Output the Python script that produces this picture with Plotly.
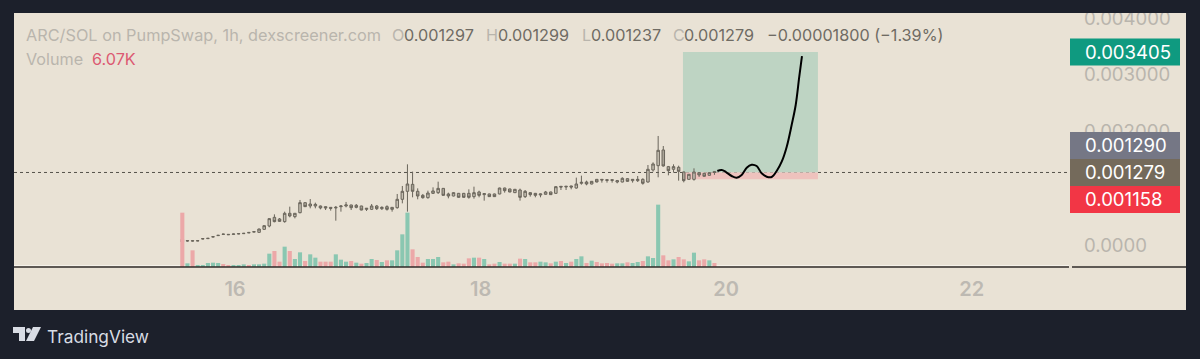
import plotly.graph_objects as go

W, H = 1200, 359
L, R, T, B = 14, 1070, 13, 267   # price pane in page pixels
BG = "#e9e2d5"; DARK = "#1c202b"; GREY = "#b9b5ad"; VAL = "#6f6b63"

x_ticks = [16, 18, 20, 22]
y_ticks = [0, 0.001, 0.002, 0.003, 0.004]
y_tick_text = ["0.0000", "0.001000", "0.002000", "0.003000", "0.004000"]

first_day = 15.571
vol_h = [163,11,50,5,5,12,13,12,9,5,4,5,8,6,8,8,10,40,48,16,61,48,24,44,18,38,28,16,16,16,38,22,16,18,13,10,12,24,21,15,20,20,50,98,163,53,30,13,24,24,
         30,14,16,8,11,10,26,28,28,24,8,10,15,10,10,10,25,24,14,14,16,14,11,16,18,12,16,24,32,12,19,15,11,12,10,11,11,14,12,15,18,32,27,187,35,20,23,30,23,17,43,20,23,20,12]
vol_dir = ("rgrgggggrr" "gggrggggrr" "grggrggrrr" "gggrgrggrg" "rggggrrrgg"
           "grrgrrrgrg" "rrgrrgrgrr" "ggrgrgrggr" "grrrrggrgg" "rgggrrgrrg" "grrgr")
volume_k = [h * 0.5 for h in vol_h]

body_top = [100,76,76,76,112,118,147,171,194,188,194,200,206,223,235,282,341,465,488,459,559,559,559,747,747,723,717,688,676,664,664,688,706,706,700,688,647,688,688,664,676,664,806,947,1076,1070,947,876,917,953,
            999,999,900,923,911,911,911,923,935,906,900,900,1005,1005,988,982,970,947,923,911,900,935,935,1029,1035,1035,1041,1076,1105,1111,1123,1158,1158,1152,1152,1135,1176,1170,1158,1158,1158,1335,1429,1670,1676,1382,1382,1370,1288,1247,1288,1276,1264,1276,1297]
body_bot = [53,70,71,71,106,112,140,165,188,182,188,195,200,215,228,223,276,335,412,417,412,512,500,570,676,688,688,653,653,647,653,676,688,658,664,617,629,629,641,641,629,629,658,806,947,947,864,835,835,911,
            923,876,864,864,841,841,841,853,876,888,853,853,900,958,935,923,841,853,888,876,882,894,888,911,1023,1023,1023,1005,1088,1076,1076,1111,1147,1141,1141,1111,1111,1123,1135,1135,1088,1111,1323,1399,1394,1311,1335,1299,1135,1158,1158,1235,1212,1229,1279]
high = [118,85,80,78,118,122,150,175,198,192,198,204,210,227,240,288,345,470,541,476,588,676,559,794,750,811,747,695,680,668,688,700,759,710,723,692,650,723,706,682,700,668,900,1041,1423,1294,999,900,958,1017,
        1117,1005,923,930,918,918,982,1029,958,911,906,906,1011,1011,994,988,994,970,930,918,906,953,940,1035,1040,1040,1046,1188,1223,1135,1128,1164,1162,1156,1156,1147,1194,1176,1162,1217,1176,1411,1458,1923,1746,1394,1423,1399,1294,1252,1352,1282,1270,1285,1299]
low = [41,60,65,68,100,108,135,160,185,178,185,190,196,212,224,218,270,312,400,410,394,488,470,559,670,647,647,629,617,606,429,588,664,617,647,612,600,617,617,617,606,588,641,735,588,841,806,817,817,900,
       900,870,823,858,835,835,817,817,841,782,848,848,895,923,930,918,782,829,853,841,841,888,882,905,970,970,982,994,1064,1053,1070,1105,1100,1100,1100,1088,1105,1118,1100,1111,1064,1100,1294,1194,1382,1229,1276,1135,1105,1150,1135,1200,1205,1222,1237]

curve_day = [19.928,19.963,19.998,20.045,20.085,20.126,20.167,20.207,20.248,20.289,20.330,20.370,20.411,20.452,20.493,20.533,20.566,20.595,20.617]
curve_price = [1.305,1.323,1.287,1.217,1.187,1.235,1.363,1.416,1.393,1.264,1.205,1.199,1.305,1.469,1.734,2.116,2.469,2.968,3.333]

entry, target, stop = 0.001279, 0.003405, 0.001158
box_start, box_end = 19.648, 20.747
tags = [("0.003405", target, "#0f9a80", 0), ("0.001290", entry, "#757785", -27),
        ("0.001279", entry, "#746a5b", 0), ("0.001158", entry, "#f23645", 27)]

n = len(vol_h)
days = [first_day + i / 24 for i in range(n)]
ups = [d == "g" for d in vol_dir]
opens = [(b if u else t) * 1e-6 for t, b, u in zip(body_top, body_bot, ups)]
closes = [(t if u else b) * 1e-6 for t, b, u in zip(body_top, body_bot, ups)]
bar_colors = ["#8ac7b1" if u else "#eca8a8" for u in ups]

def px(x): return x / W
def py(y): return 1 - y / H
def rect(x0, y0, x1, y1, color):
    return dict(type="rect", xref="paper", yref="paper", x0=px(x0), x1=px(x1), y0=py(y1), y1=py(y0), fillcolor=color, line_width=0)
def rule(x0, x1, y, color, width, layer="above"):
    return dict(type="line", xref="paper", yref="paper", x0=px(x0), x1=px(x1), y0=py(y), y1=py(y), line=dict(color=color, width=width), layer=layer)

fig = go.Figure()
fig.add_bar(x=days, y=volume_k, marker=dict(color=bar_colors, line_width=0), width=0.8 / 24, yaxis="y2", showlegend=False)
fig.add_candlestick(x=days, open=opens, close=closes, high=[v * 1e-6 for v in high], low=[v * 1e-6 for v in low],
                    increasing=dict(line=dict(color="#6a655b", width=1), fillcolor="#c8c2b5"),
                    decreasing=dict(line=dict(color="#6a655b", width=1), fillcolor="#a9a396"),
                    whiskerwidth=0, showlegend=False)
fig.add_scatter(x=curve_day, y=[p * 1e-3 for p in curve_price], mode="lines",
                line=dict(color="#000000", width=2, shape="spline", smoothing=1), showlegend=False)

shapes = [
    dict(type="rect", xref="x", yref="y", x0=box_start, x1=box_end, y0=entry, y1=target, fillcolor="#bed4c3", line_width=0, layer="below"),
    dict(type="rect", xref="x", yref="y", x0=box_start, x1=box_end, y0=stop, y1=entry, fillcolor="#eec2bd", line_width=0, layer="below"),
    dict(type="line", xref="x domain", yref="y", x0=0, x1=1, y0=entry, y1=entry, line=dict(color="#55524b", width=1, dash="dot"), layer="below"),
    rect(0, 0, W, T, DARK), rect(0, 310, W, H, DARK), rect(0, 0, L, H, DARK), rect(1186, 0, W, H, DARK),
    rule(L, 1069, 265.5, "#f6f2ea", 1, "below"), rule(L, 1069, 267, "#2f2b28", 1.5), rule(1072, 1186, 267, "#2f2b28", 1.5),
    # TradingView logo
    dict(type="path", xref="paper", yref="paper", line_width=0, fillcolor="#d8dce4",
         path=f"M {px(13)} {py(327)} L {px(25)} {py(327)} L {px(25)} {py(341)} L {px(19)} {py(341)} L {px(19)} {py(333)} L {px(13)} {py(333)} Z"),
    dict(type="circle", xref="paper", yref="paper", line_width=0, fillcolor="#d8dce4", x0=px(26), x1=px(31), y0=py(333), y1=py(328)),
    dict(type="path", xref="paper", yref="paper", line_width=0, fillcolor="#d8dce4",
         path=f"M {px(33)} {py(327)} L {px(41)} {py(327)} L {px(34)} {py(341)} L {px(26)} {py(341)} Z"),
]
def text_at(x, y, text, color, size=16.2):
    return dict(xref="paper", yref="paper", x=px(x), y=py(y), xanchor="left", yanchor="middle", text=text, showarrow=False,
                font=dict(family="Inter", size=size, color=color), borderpad=0, borderwidth=0)

annotations = []
for label, value, color, shift in tags:
    shapes.append(dict(type="rect", xref="paper", yref="y", ysizemode="pixel", yanchor=value, x0=px(1070), x1=px(1180),
                       y0=-shift - 13.5, y1=-shift + 13.5, fillcolor=color, line_width=0))
    annotations.append(dict(xref="paper", yref="y", x=px(1083), y=value, yshift=-shift, xanchor="left", yanchor="middle",
                            text=label, showarrow=False, font=dict(family="Inter", size=18.6, color="#ffffff")))

annotations += [
    text_at(26, 35, "ARC/SOL on PumpSwap, 1h, dexscreener.com", GREY, 16.3),
    text_at(392, 35, "O", GREY), text_at(404, 35, "0.001297", VAL),
    text_at(486, 35, "H", GREY), text_at(498, 35, "0.001299", VAL),
    text_at(582, 35, "L", GREY), text_at(591, 35, "0.001237", VAL),
    text_at(673, 35, "C", GREY), text_at(684, 35, "0.001279", VAL),
    text_at(767, 35, "\u22120.00001800 (\u22121.39%)", VAL),
    text_at(26, 59, "Volume", GREY), text_at(92, 59, "6.07K", "#dc5a72"),
    text_at(47, 336, "TradingView", "#d8dce4", 17.3),
]

fig.update_layout(
    width=W, height=H, margin=dict(l=0, r=0, t=0, b=0, pad=0), paper_bgcolor=BG, plot_bgcolor=BG,
    shapes=shapes, annotations=annotations, showlegend=False, barmode="overlay",
    xaxis=dict(automargin=False, domain=[L / W, R / W], range=[16 + (L - 235) / 122.8, 16 + (R - 235) / 122.8], tickvals=x_ticks, ticktext=[str(v) for v in x_ticks],
               showgrid=False, zeroline=False, rangeslider=dict(visible=False), ticks="",
               tickfont=dict(family="Inter", size=20, color="#bdb9b2", weight=600), ticklabelstandoff=8),
    yaxis=dict(automargin=False, domain=[1 - B / H, 1 - T / H], range=[(245 - B) / 56700, (245 - T) / 56700], side="right", tickvals=y_ticks, ticktext=y_tick_text,
               showgrid=False, zeroline=False, ticks="", tickfont=dict(family="Inter", size=18.6, color=GREY), ticklabelstandoff=13),
    yaxis2=dict(automargin=False, domain=[1 - B / H, 1 - T / H], range=[0, (B - T) / 0.6667], overlaying="y", side="left", visible=False),
)
fig.write_html("out.html", config={"displayModeBar": False},
               post_script="document.body.style.margin='0';document.body.style.background='%s';" % DARK)
